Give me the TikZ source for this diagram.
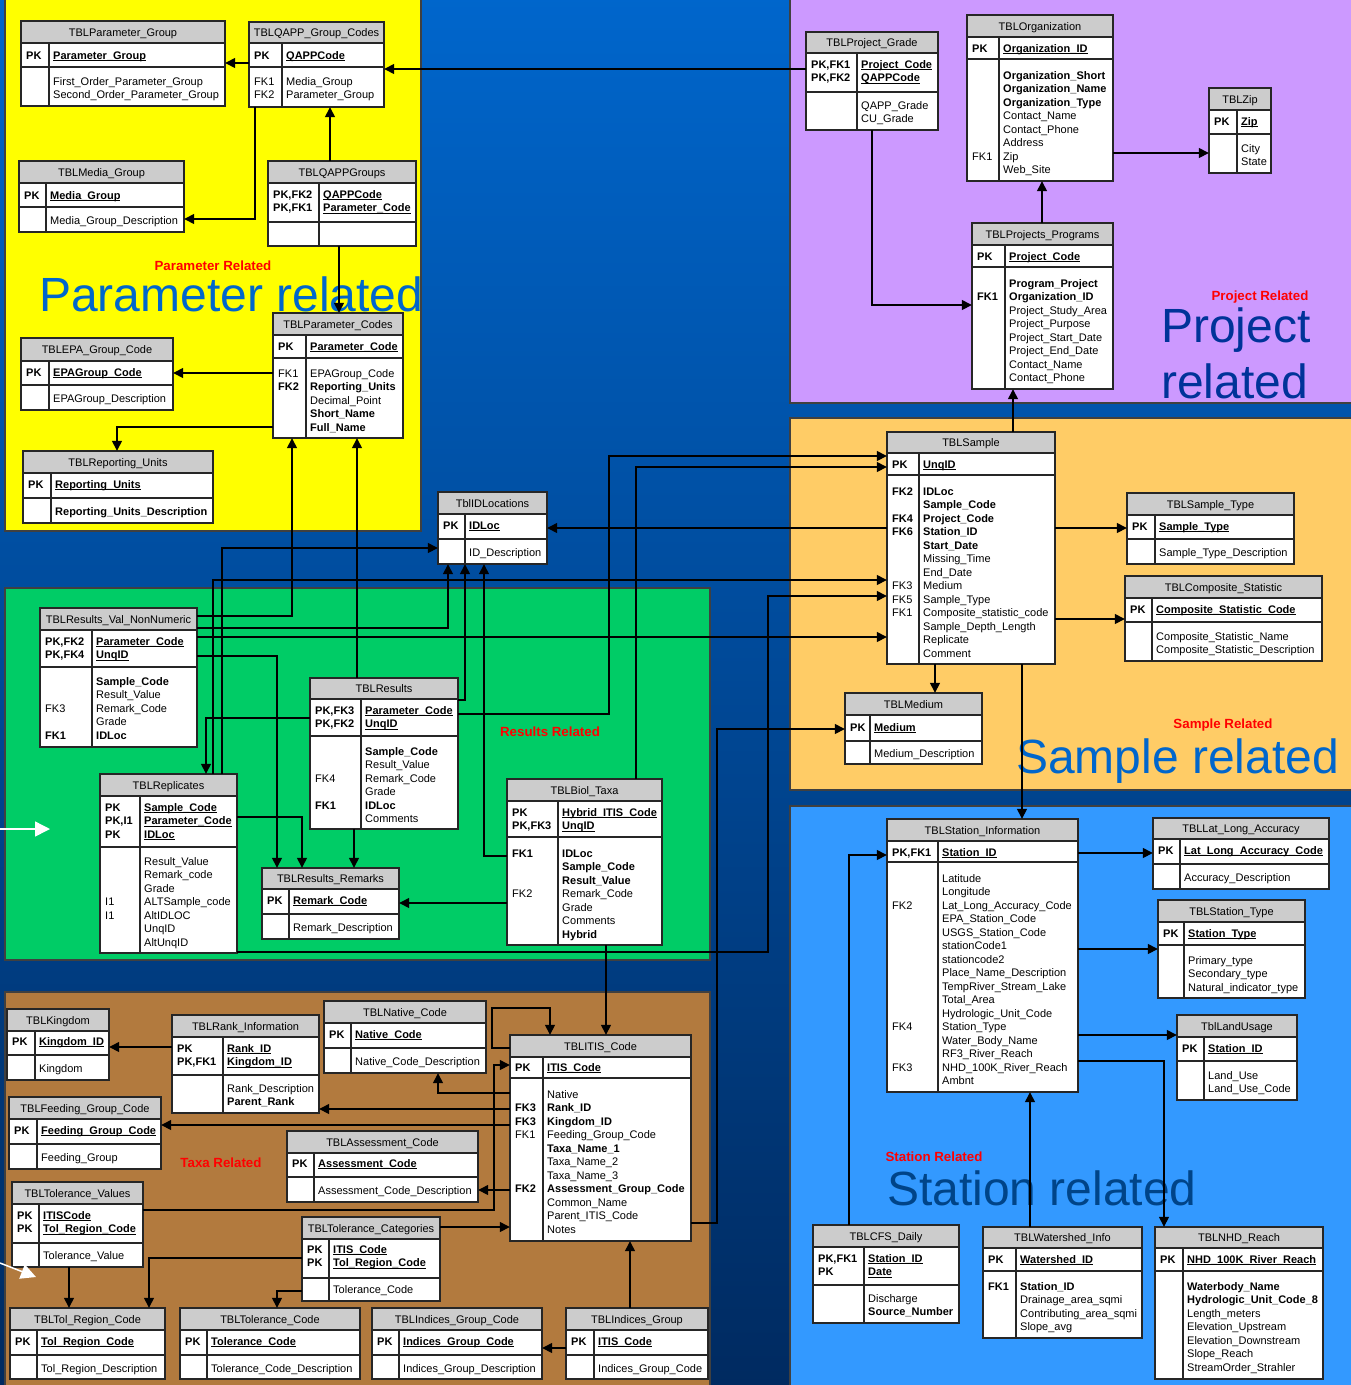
\documentclass[tikz,border=0pt]{standalone}
\usepackage{fontspec}
\setmainfont{Liberation Sans}
\usetikzlibrary{arrows.meta,fit}
\definecolor{bgtop}{RGB}{0,102,204}
\definecolor{bgmid}{RGB}{0,86,178}
\definecolor{bgbot}{RGB}{0,42,96}
\definecolor{cyel}{RGB}{255,255,0}
\definecolor{cpur}{RGB}{204,153,255}
\definecolor{cora}{RGB}{255,204,102}
\definecolor{cgrn}{RGB}{0,204,102}
\definecolor{cblu}{RGB}{51,153,255}
\definecolor{cbrn}{RGB}{178,122,62}
\definecolor{ctit}{RGB}{204,204,204}
\definecolor{bigA}{RGB}{0,102,204}
\definecolor{bigB}{RGB}{0,51,153}
\definecolor{bigC}{RGB}{0,68,136}
\definecolor{redlab}{RGB}{255,0,0}
\newcommand\tf{\fontsize{11}{13.5}\selectfont}
\newcommand\fb[1]{\textbf{#1}}
\newcommand\fu[1]{\setbox0\hbox{\textbf{#1}}\rlap{\rule[-2pt]{\wd0}{0.8pt}}\box0}
\newcount\tcn
\newcommand\tcol[3]{\global\advance\tcn by 1
  \node[anchor=north west,inner sep=0pt,font=\tf] (tx\the\tcn) at ({#1},{#2-5.6}) {\begin{tabular}{@{}l@{}}#3\end{tabular}};}
\newcommand\tbl[9]{\def\tx{#2}\def\td{#3}%
  \fill[ctit] (#2,#5) rectangle (#4,#6);
  \fill[white] (#2,#6) rectangle (#4,#8);
  \draw[tline] (#2,#6) -- (#4,#6) (#2,#7) -- (#4,#7) (#3,#6) -- (#3,#8);
  \draw[tline] (#2,#5) rectangle (#4,#8);
  \node[anchor=base,inner sep=0pt,font=\tf] (#1-t) at ({(#2+#4)/2},{(#5+#6)/2+4}) {#9};
  \node[fit={(#2,#5)(#4,#8)},inner sep=0pt] (#1) {};}
\newcommand\rows[3]{\tcol{\tx+5}{#1}{#2}\tcol{\td+4}{#1}{#3}}
\newcommand\fl[2]{\tcol{\td+4}{#1}{#2}}
\tikzset{
  tline/.style={draw=black!85,line width=1.1pt},
  fk/.style={draw=black,line width=1.4pt,-{Triangle[length=10pt,width=10pt]}},
  panel/.style={draw=black!75,line width=1.5pt},
  bigt/.style={inner sep=0pt,anchor=base west,font=\fontsize{48}{48}\selectfont},
  redt/.style={inner sep=0pt,text=redlab,font=\fontsize{13.3}{14}\selectfont\bfseries},
  warrow/.style={draw=white,line width=1.5pt,-{Triangle[length=15pt,width=15pt]}}
}
\begin{document}
\begin{tikzpicture}[x=1pt,y=-1pt]
\useasboundingbox (0,0) rectangle (1351,1385);
\clip (0,0) rectangle (1351,1385);
\shade[top color=bgtop,middle color=bgmid,bottom color=bgbot] (-5,-5) rectangle (1356,1390);
% panels
\filldraw[panel,fill=cyel] (5,-5) rectangle (421,531);
\filldraw[panel,fill=cpur] (790,-5) rectangle (1356,403);
\filldraw[panel,fill=cora] (790,418) rectangle (1356,790);
\filldraw[panel,fill=cgrn] (5,588) rectangle (710,960);
\filldraw[panel,fill=cblu] (790,806) rectangle (1356,1390);
\filldraw[panel,fill=cbrn] (5,992) rectangle (710,1390);
% panel captions
\node[bigt,text=bigA] (bigpar) at (39,311) {Parameter related};
\node[bigt,text=bigB] (bigpro1) at (1161,342) {Project};
\node[bigt,text=bigB] (bigpro2) at (1161,398) {related};
\node[bigt,text=bigA] (bigsam) at (1016,773) {Sample related};
\node[bigt,text=bigC] (bigsta) at (887,1205) {Station related};
\node[redt] (redpar) at (213,266) {Parameter Related};
\node[redt] (redpro) at (1260,297) {Project Related};
\node[redt] (redsam) at (1223,725) {Sample Related};
\node[redt] (redres) at (550,732) {Results Related};
\node[redt] (redsta) at (934,1157) {Station Related};
\node[redt] (redtax) at (221,1163) {Taxa Related};
% ---------- tables ----------
\tbl{pgrp}{21}{49}{225}{21}{43}{67}{106}{TBLParameter\_Group}
\rows{55}{\fb{PK}}{\fu{Parameter\_Group}}
\fl{81}{First\_Order\_Parameter\_Group\\Second\_Order\_Parameter\_Group}
\tbl{qgc}{249}{282}{384}{22}{43}{67}{107}{TBLQAPP\_Group\_Codes}
\rows{55}{\fb{PK}}{\fu{QAPPCode}}
\rows{81}{FK1\\FK2}{Media\_Group\\Parameter\_Group}
\tbl{mg}{19}{46}{184}{161}{183}{207}{232}{TBLMedia\_Group}
\rows{195}{\fb{PK}}{\fu{Media\_Group}}
\fl{220}{Media\_Group\_Description}
\tbl{qg}{268}{319}{416}{161}{183}{222}{246}{TBLQAPPGroups}
\rows{194}{\fb{PK,FK2}\\\fb{PK,FK1}}{\fu{QAPPCode}\\\fu{Parameter\_Code}}
\tbl{pc}{273}{306}{403}{313}{335}{358}{438}{TBLParameter\_Codes}
\rows{346}{\fb{PK}}{\fu{Parameter\_Code}}
\rows{373}{FK1\\\fb{FK2}}{EPAGroup\_Code\\\fb{Reporting\_Units}\\Decimal\_Point\\\fb{Short\_Name}\\\fb{Full\_Name}}
\tbl{epa}{21}{49}{173}{338}{361}{385}{410}{TBLEPA\_Group\_Code}
\rows{372}{\fb{PK}}{\fu{EPAGroup\_Code}}
\fl{398}{EPAGroup\_Description}
\tbl{ru}{23}{51}{213}{451}{473}{498}{523}{TBLReporting\_Units}
\rows{484}{\fb{PK}}{\fu{Reporting\_Units}}
\fl{511}{\fb{Reporting\_Units\_Description}}
\tbl{idl}{438}{465}{547}{492}{514}{539}{564}{TblIDLocations}
\rows{525}{\fb{PK}}{\fu{IDLoc}}
\fl{552}{ID\_Description}
\tbl{pg}{806}{857}{938}{32}{53}{92}{130}{TBLProject\_Grade}
\rows{64}{\fb{PK,FK1}\\\fb{PK,FK2}}{\fu{Project\_Code}\\\fu{QAPPCode}}
\fl{105}{QAPP\_Grade\\CU\_Grade}
\tbl{org}{967}{999}{1113}{15}{37}{59}{181}{TBLOrganization}
\rows{48}{\fb{PK}}{\fu{Organization\_ID}}
\rows{75}{\\ \\ \\ \\ \\ \\ FK1}{\fb{Organization\_Short}\\\fb{Organization\_Name}\\\fb{Organization\_Type}\\Contact\_Name\\Contact\_Phone\\Address\\Zip\\Web\_Site}
\tbl{zip}{1209}{1237}{1271}{88}{110}{134}{173}{TBLZip}
\rows{121}{\fb{PK}}{\fu{Zip}}
\fl{148}{City\\State}
\tbl{pp}{972}{1005}{1113}{223}{245}{267}{389}{TBLProjects\_Programs}
\rows{256}{\fb{PK}}{\fu{Project\_Code}}
\rows{283}{\\ \fb{FK1}}{\fb{Program\_Project}\\\fb{Organization\_ID}\\Project\_Study\_Area\\Project\_Purpose\\Project\_Start\_Date\\Project\_End\_Date\\Contact\_Name\\Contact\_Phone}
\tbl{smp}{887}{919}{1055}{432}{453}{475}{664}{TBLSample}
\rows{464}{\fb{PK}}{\fu{UnqID}}
\rows{491}{\fb{FK2}\\ \\ \fb{FK4}\\\fb{FK6}\\ \\ \\ \\ FK3\\FK5\\FK1}{\fb{IDLoc}\\\fb{Sample\_Code}\\\fb{Project\_Code}\\\fb{Station\_ID}\\\fb{Start\_Date}\\Missing\_Time\\End\_Date\\Medium\\Sample\_Type\\Composite\_statistic\_code\\Sample\_Depth\_Length\\Replicate\\Comment}
\tbl{st}{1127}{1155}{1294}{493}{515}{539}{564}{TBLSample\_Type}
\rows{526}{\fb{PK}}{\fu{Sample\_Type}}
\fl{552}{Sample\_Type\_Description}
\tbl{cs}{1125}{1152}{1322}{576}{598}{622}{661}{TBLComposite\_Statistic}
\rows{609}{\fb{PK}}{\fu{Composite\_Statistic\_Code}}
\fl{636}{Composite\_Statistic\_Name\\Composite\_Statistic\_Description}
\tbl{med}{845}{870}{982}{693}{715}{741}{764}{TBLMedium}
\rows{727}{\fb{PK}}{\fu{Medium}}
\fl{753}{Medium\_Description}
\tbl{nn}{40}{92}{197}{608}{630}{667}{747}{TBLResults\_Val\_NonNumeric}
\rows{641}{\fb{PK,FK2}\\\fb{PK,FK4}}{\fu{Parameter\_Code}\\\fu{UnqID}}
\rows{681}{\\ \\ FK3\\ \\ \fb{FK1}}{\fb{Sample\_Code}\\Result\_Value\\Remark\_Code\\Grade\\\fb{IDLoc}}
\tbl{rep}{100}{140}{237}{774}{796}{847}{953}{TBLReplicates}
\rows{807}{\fb{PK}\\\fb{PK,I1}\\\fb{PK}}{\fu{Sample\_Code}\\\fu{Parameter\_Code}\\\fu{IDLoc}}
\rows{861}{\\ \\ \\ I1\\I1}{Result\_Value\\Remark\_code\\Grade\\ALTSample\_code\\AltIDLOC\\UnqID\\AltUnqID}
\tbl{res}{310}{361}{458}{678}{699}{736}{829}{TBLResults}
\rows{710}{\fb{PK,FK3}\\\fb{PK,FK2}}{\fu{Parameter\_Code}\\\fu{UnqID}}
\rows{751}{\\ \\ FK4\\ \\ \fb{FK1}}{\fb{Sample\_Code}\\Result\_Value\\Remark\_Code\\Grade\\\fb{IDLoc}\\Comments}
\tbl{rr}{262}{289}{399}{868}{889}{914}{939}{TBLResults\_Remarks}
\rows{900}{\fb{PK}}{\fu{Remark\_Code}}
\fl{927}{Remark\_Description}
\tbl{bt}{507}{558}{662}{779}{801}{837}{945}{TBLBiol\_Taxa}
\rows{812}{\fb{PK}\\\fb{PK,FK3}}{\fu{Hybrid\_ITIS\_Code}\\\fu{UnqID}}
\rows{853}{\fb{FK1}\\ \\ \\ FK2}{\fb{IDLoc}\\\fb{Sample\_Code}\\\fb{Result\_Value}\\Remark\_Code\\Grade\\Comments\\\fb{Hybrid}}
\tbl{si}{887}{938}{1078}{819}{841}{862}{1092}{TBLStation\_Information}
\rows{852}{\fb{PK,FK1}}{\fu{Station\_ID}}
\rows{878}{\\ \\ FK2\\ \\ \\ \\ \\ \\ \\ \\ \\ FK4\\ \\ \\ FK3}{Latitude\\Longitude\\Lat\_Long\_Accuracy\_Code\\EPA\_Station\_Code\\USGS\_Station\_Code\\stationCode1\\stationcode2\\Place\_Name\_Description\\TempRiver\_Stream\_Lake\\Total\_Area\\Hydrologic\_Unit\_Code\\Station\_Type\\Water\_Body\_Name\\RF3\_River\_Reach\\NHD\_100K\_River\_Reach\\Ambnt}
\tbl{ll}{1153}{1180}{1329}{818}{839}{864}{889}{TBLLat\_Long\_Accuracy}
\rows{850}{\fb{PK}}{\fu{Lat\_Long\_Accuracy\_Code}}
\fl{877}{Accuracy\_Description}
\tbl{sty}{1158}{1184}{1305}{900}{922}{945}{998}{TBLStation\_Type}
\rows{933}{\fb{PK}}{\fu{Station\_Type}}
\fl{960}{Primary\_type\\Secondary\_type\\Natural\_indicator\_type}
\tbl{lu}{1177}{1204}{1297}{1015}{1037}{1061}{1100}{TblLandUsage}
\rows{1048}{\fb{PK}}{\fu{Station\_ID}}
\fl{1075}{Land\_Use\\Land\_Use\_Code}
\tbl{cfs}{813}{864}{959}{1225}{1247}{1285}{1323}{TBLCFS\_Daily}
\rows{1258}{\fb{PK,FK1}\\\fb{PK}}{\fu{Station\_ID}\\\fu{Date}}
\fl{1298}{Discharge\\\fb{Source\_Number}}
\tbl{ws}{983}{1016}{1142}{1227}{1248}{1271}{1338}{TBLWatershed\_Info}
\rows{1259}{\fb{PK}}{\fu{Watershed\_ID}}
\rows{1286}{\fb{FK1}}{\fb{Station\_ID}\\Drainage\_area\_sqmi\\Contributing\_area\_sqmi\\Slope\_avg}
\tbl{nhd}{1155}{1183}{1323}{1227}{1248}{1271}{1379}{TBLNHD\_Reach}
\rows{1259}{\fb{PK}}{\fu{NHD\_100K\_River\_Reach}}
\fl{1286}{\fb{Waterbody\_Name}\\\fb{Hydrologic\_Unit\_Code\_8}\\Length\_meters\\Elevation\_Upstream\\Elevation\_Downstream\\Slope\_Reach\\StreamOrder\_Strahler}
\tbl{kg}{7}{35}{109}{1009}{1031}{1055}{1080}{TBLKingdom}
\rows{1041}{\fb{PK}}{\fu{Kingdom\_ID}}
\fl{1068}{Kingdom}
\tbl{rk}{172}{223}{319}{1015}{1037}{1075}{1113}{TBLRank\_Information}
\rows{1048}{\fb{PK}\\\fb{PK,FK1}}{\fu{Rank\_ID}\\\fu{Kingdom\_ID}}
\fl{1088}{Rank\_Description\\\fb{Parent\_Rank}}
\tbl{nc}{324}{351}{486}{1001}{1023}{1048}{1073}{TBLNative\_Code}
\rows{1034}{\fb{PK}}{\fu{Native\_Code}}
\fl{1061}{Native\_Code\_Description}
\tbl{fg}{9}{37}{161}{1097}{1119}{1144}{1169}{TBLFeeding\_Group\_Code}
\rows{1130}{\fb{PK}}{\fu{Feeding\_Group\_Code}}
\fl{1157}{Feeding\_Group}
\tbl{ac}{287}{314}{478}{1131}{1153}{1177}{1202}{TBLAssessment\_Code}
\rows{1163}{\fb{PK}}{\fu{Assessment\_Code}}
\fl{1190}{Assessment\_Code\_Description}
\tbl{tv}{12}{39}{143}{1182}{1204}{1243}{1267}{TBLTolerance\_Values}
\rows{1215}{\fb{PK}\\\fb{PK}}{\fu{ITISCode}\\\fu{Tol\_Region\_Code}}
\fl{1255}{Tolerance\_Value}
\tbl{tc}{302}{329}{440}{1217}{1239}{1278}{1301}{TBLTolerance\_Categories}
\rows{1249}{\fb{PK}\\\fb{PK}}{\fu{ITIS\_Code}\\\fu{Tol\_Region\_Code}}
\fl{1289}{Tolerance\_Code}
\tbl{tr}{10}{37}{165}{1308}{1330}{1355}{1379}{TBLTol\_Region\_Code}
\rows{1341}{\fb{PK}}{\fu{Tol\_Region\_Code}}
\fl{1368}{Tol\_Region\_Description}
\tbl{tcd}{180}{207}{360}{1308}{1330}{1355}{1379}{TBLTolerance\_Code}
\rows{1341}{\fb{PK}}{\fu{Tolerance\_Code}}
\fl{1368}{Tolerance\_Code\_Description}
\tbl{igc}{372}{399}{542}{1308}{1330}{1355}{1379}{TBLIndices\_Group\_Code}
\rows{1341}{\fb{PK}}{\fu{Indices\_Group\_Code}}
\fl{1368}{Indices\_Group\_Description}
\tbl{ig}{566}{594}{708}{1308}{1330}{1355}{1379}{TBLIndices\_Group}
\rows{1341}{\fb{PK}}{\fu{ITIS\_Code}}
\fl{1368}{Indices\_Group\_Code}
\tbl{itis}{510}{543}{691}{1035}{1057}{1078}{1241}{TBLITIS\_Code}
\rows{1067}{\fb{PK}}{\fu{ITIS\_Code}}
\rows{1094}{\\ \fb{FK3}\\\fb{FK3}\\FK1\\ \\ \\ \\ \fb{FK2}}{Native\\\fb{Rank\_ID}\\\fb{Kingdom\_ID}\\Feeding\_Group\_Code\\\fb{Taxa\_Name\_1}\\Taxa\_Name\_2\\Taxa\_Name\_3\\\fb{Assessment\_Group\_Code}\\Common\_Name\\Parent\_ITIS\_Code\\Notes}
% ---------- connectors ----------
\draw[fk] (qgc.west |- 0,63) -- (pgrp.east |- 0,63);
\draw[fk] (qgc.south -| 255,0) |- (mg.east |- 0,219);
\draw[fk] (qg.north -| 330,0) -- (qgc.south -| 330,0);
\draw[fk] (qg.south -| 339,0) -- (pc.north -| 339,0);
\draw[fk] (pg.west |- 0,69) -- (qgc.east |- 0,69);
\draw[fk] (pc.west |- 0,373) -- (epa.east |- 0,373);
\draw[fk] (pc.west |- 0,427) -| (ru.north -| 117,0);
\draw[fk] (nn.east |- 0,616) -| (pc.south -| 292,0);
\draw[fk] (res.north -| 357,0) -- (pc.south -| 357,0);
\draw[fk] (rep.north -| 213,0) |- (smp.west |- 0,580);
\draw[fk] (rep.north -| 222,0) |- (idl.west |- 0,548);
\draw[fk] (res.west |- 0,718) -| (rep.north -| 206,0);
\draw[fk] (nn.east |- 0,628) -| (idl.south -| 448,0);
\draw[fk] (nn.east |- 0,637) -- (smp.west |- 0,637);
\draw[fk] (nn.east |- 0,656) -| (rr.north -| 277,0);
\draw[fk] (rep.east |- 0,817) -| (rr.north -| 302,0);
\draw[fk] (res.south -| 354,0) -- (rr.north -| 354,0);
\draw[fk] (bt.west |- 0,903) -- (rr.east |- 0,903);
\draw[fk] (bt.west |- 0,856) -| (idl.south -| 484,0);
\draw[fk] (res.east |- 0,700) -| (idl.south -| 465,0);
\draw[fk] (res.east |- 0,714) -| (609,456) -- (smp.west |- 0,456);
\draw[fk] (bt.north -| 636,0) |- (smp.west |- 0,467);
\draw[fk] (smp.west |- 0,528) -- (idl.east |- 0,528);
\draw[fk] (rep.east |- 0,952) -| (768,596) -- (smp.west |- 0,596);
\draw[fk] (itis.east |- 0,1223) -| (717,729) -- (med.west |- 0,729);
\draw[fk] (bt.south -| 606,0) -- (itis.north -| 606,0);
\draw[fk] (cfs.north -| 849,0) |- (si.west |- 0,855);
\draw[fk] (smp.south -| 1022,0) -- (si.north -| 1022,0);
\draw[fk] (smp.south -| 935,0) -- (med.north -| 935,0);
\draw[fk] (smp.east |- 0,528) -- (st.west |- 0,528);
\draw[fk] (smp.east |- 0,619) -- (cs.west |- 0,619);
\draw[fk] (smp.north -| 1013,0) -- (pp.south -| 1013,0);
\draw[fk] (pg.south -| 872,0) |- (pp.west |- 0,305);
\draw[fk] (pp.north -| 1042,0) -- (org.south -| 1042,0);
\draw[fk] (org.east |- 0,153) -- (zip.west |- 0,153);
\draw[fk] (si.east |- 0,853) -- (ll.west |- 0,853);
\draw[fk] (si.east |- 0,949) -- (sty.west |- 0,949);
\draw[fk] (si.east |- 0,1035) -- (lu.west |- 0,1035);
\draw[fk] (si.east |- 0,1061) -| (nhd.north -| 1164,0);
\draw[fk] (ws.north -| 1030,0) -- (si.south -| 1030,0);
\draw[fk] (rk.west |- 0,1047) -- (kg.east |- 0,1047);
\draw[fk] (itis.west |- 0,1093) -| (nc.south -| 438,0);
\draw[fk] (itis.west |- 0,1109) -- (rk.east |- 0,1109);
\draw[fk] (itis.west |- 0,1125) -- (fg.east |- 0,1125);
\draw[fk] (itis.west |- 0,1190) -- (ac.east |- 0,1190);
\draw[fk] (itis.west |- 0,1048) -| (492,1008) -| (itis.north -| 550,0);
\draw[fk] (tv.east |- 0,1210) -| (494,1065) -- (itis.west |- 0,1065);
\draw[fk] (tc.east |- 0,1227) -- (itis.west |- 0,1227);
\draw[fk] (ig.north -| 630,0) -- (itis.south -| 630,0);
\draw[fk] (ig.west |- 0,1348) -- (igc.east |- 0,1348);
\draw[fk] (tv.south -| 69,0) -- (tr.north -| 69,0);
\draw[fk] (tc.west |- 0,1258) -| (tr.north -| 149,0);
\draw[fk] (tc.west |- 0,1291) -| (tcd.north -| 277,0);
% white slide arrows
\coordinate (wa1) at (0,829); \coordinate (wb1) at (50,829);
\coordinate (wa2) at (0,1263); \coordinate (wb2) at (36,1277);
\draw[warrow] (wa1) -- (wb1);
\draw[warrow] (wa2) -- (wb2);
\end{tikzpicture}
\end{document}
